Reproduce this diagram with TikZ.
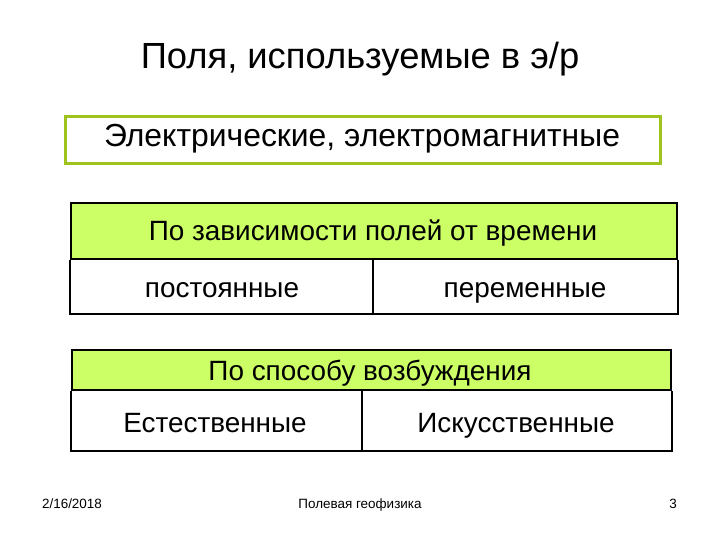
\documentclass[tikz,border=0pt]{standalone}
\usepackage{fontspec}
\setmainfont{Liberation Sans}
\usetikzlibrary{positioning}

\definecolor{fieldgreen}{HTML}{9FC21F}
\definecolor{headgreen}{HTML}{CCFF66}

\tikzset{
	fieldbox/.style={draw=fieldgreen,line width=3bp,fill=white,inner sep=0pt},
	headcell/.style={draw=black,line width=1.6bp,fill=headgreen,inner sep=0pt},
	tabframe/.style={draw=black,line width=1.6bp},
	bigtext/.style={anchor=base,inner sep=0pt,font=\fontsize{32}{36}\selectfont},
	celltext/.style={anchor=base,inner sep=0pt,font=\fontsize{28}{32}\selectfont},
	foottext/.style={anchor=base,inner sep=0pt,font=\fontsize{13.5}{16}\selectfont}
}

\begin{document}
\begin{tikzpicture}[x=1bp,y=-1bp]
	\useasboundingbox (0,0) rectangle (720,540);
	
	\node[anchor=base,font=\fontsize{36.5}{42}\selectfont] (title) at (360,69) {Поля, используемые в э/р};
	
	\node[fieldbox,minimum width=595bp,minimum height=47bp] (elecbox) at (363,140) {};
	\node[bigtext] (elec) at (362,147) {Электрические, электромагнитные};
	
	% time dependence
	\node[headcell,minimum width=606bp,minimum height=56bp] (timehead) at (374,231) {};
	\node[celltext] (timetext) at (373,241) {По зависимости полей от времени};
	\coordinate (timebot) at (374,314);
	\draw[tabframe] (timehead.south west) |- (timebot) -| (timehead.south east);
	\node[celltext] (const) at (222,297) {постоянные};
	\node[celltext] (vary) at (525,297) {переменные};
	\coordinate (timesplit) at (373,259);
	\draw[tabframe] (timesplit) -- (timesplit |- timebot);
	
	% excitation
	\node[headcell,minimum width=599bp,minimum height=40bp] (exchead) at (371.5,370) {};
	\node[celltext] (exctext) at (370,380) {По способу возбуждения};
	\coordinate (excbot) at (371.5,451);
	\draw[tabframe] (exchead.south west) |- (excbot) -| (exchead.south east);
	\node[celltext] (natural) at (215,432) {Естественные};
	\node[celltext] (artificial) at (516,432) {Искусственные};
	\coordinate (excsplit) at (362,390);
	\draw[tabframe] (excsplit) -- (excsplit |- excbot);
	
	\node[foottext] (date) at (72,508) {2/16/2018};
	\node[foottext] (course) at (360,508) {Полевая геофизика};
	\node[foottext] (page) at (673,508) {3};
\end{tikzpicture}
\end{document}
